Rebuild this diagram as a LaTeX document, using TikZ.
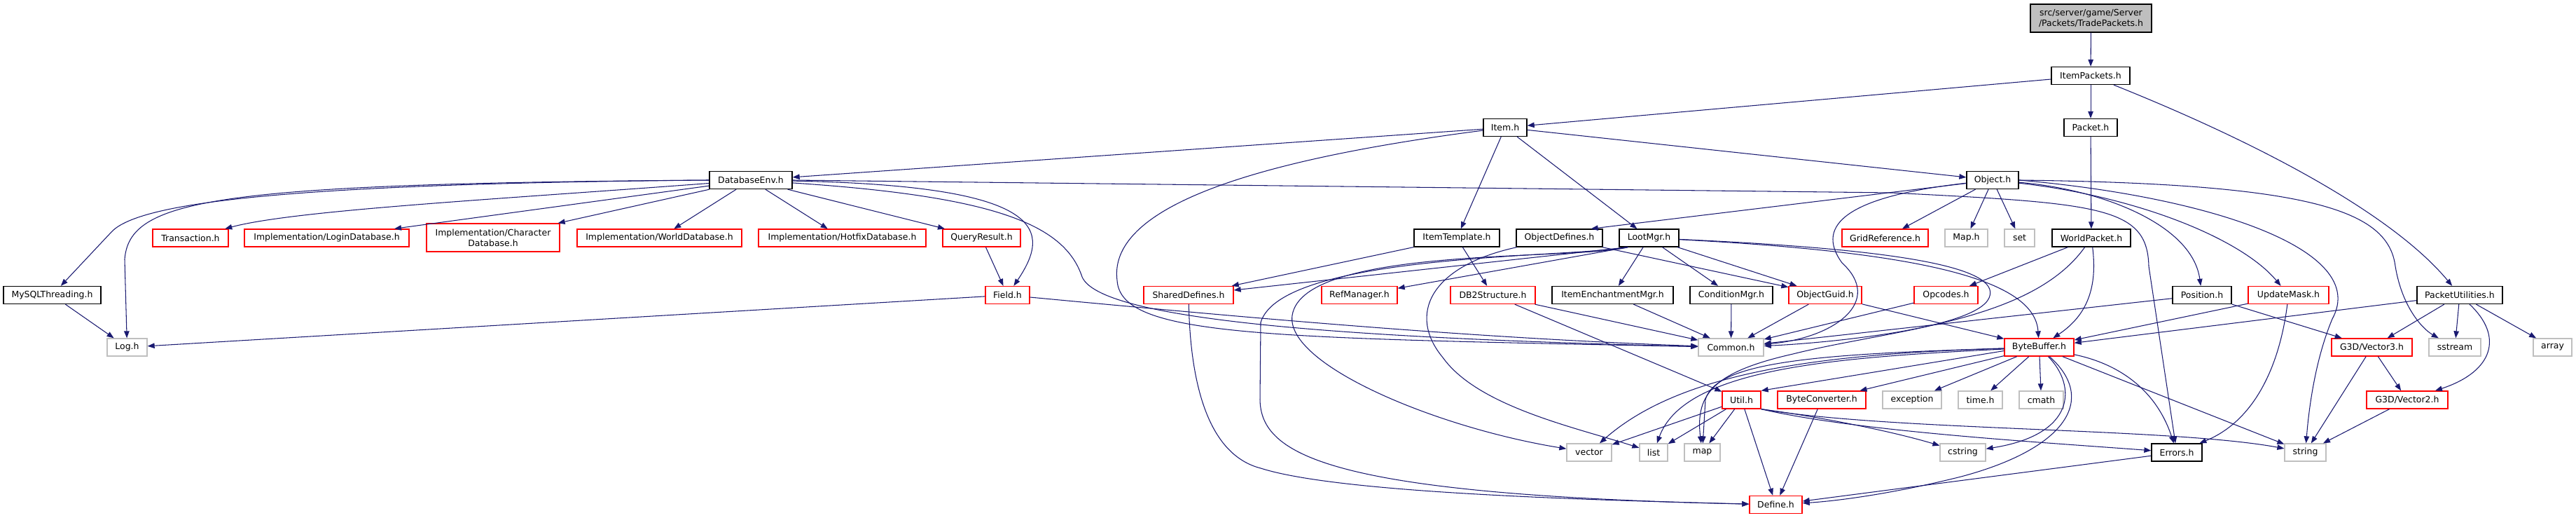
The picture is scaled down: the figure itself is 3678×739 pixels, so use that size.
\documentclass[tikz,border=0pt]{standalone}
\usepackage{fontspec}
\setmainfont{DejaVu Sans}
\usetikzlibrary{arrows.meta,calc}
\definecolor{EdgeBlue}{RGB}{25,25,112}
\definecolor{FileGray}{RGB}{191,191,191}
\definecolor{FileRed}{RGB}{255,0,0}

\begin{document}
\begin{tikzpicture}[
    x=0.02cm, y=-0.02cm,
    >={Triangle[length=0.2cm,width=0.15cm]},
    file/.style={rectangle, draw=#1, fill=white, line width=0.75pt,
                 minimum height=0.5cm, inner sep=0pt,
                 font=\fontsize{7.1}{8.6}\selectfont, text=black},
    file/.default=black,
    boxw/.style={minimum width=#1*0.02cm},
    rootfile/.style={file, fill=FileGray, minimum height=0.8cm, align=center},
    dep/.style={->, color=EdgeBlue, line width=0.6pt},
]
\useasboundingbox (0,0) rectangle (3678,739);

% ── Root and first levels ──
\node[rootfile, boxw=173] (root) at (2985.5,26) {src/server/game/Server\\/Packets/TradePackets.h};
\node[file, boxw=112] (itempk) at (2985,108) {ItemPackets.h};
\node[file, boxw=76] (packet) at (2985,182) {Packet.h};
\node[file, boxw=62] (item) at (2149,182) {Item.h};
\node[file, boxw=118] (dbenv) at (1072,257) {DatabaseEnv.h};
\node[file, boxw=74] (object) at (2845,257) {Object.h};

% ── Row 3 ──
\node[file=FileRed, boxw=108] (trans) at (272,339.5) {Transaction.h};
\node[file=FileRed, boxw=235] (logindb) at (466.5,339.5) {Implementation/LoginDatabase.h};
\node[file=FileRed, boxw=190, minimum height=0.8cm, align=center] (chardb) at (704,339) {Implementation/Character\\Database.h};
\node[file=FileRed, boxw=235] (worlddb) at (941.5,339.5) {Implementation/WorldDatabase.h};
\node[file=FileRed, boxw=239] (hotfixdb) at (1202.5,339.5) {Implementation/HotfixDatabase.h};
\node[file=FileRed, boxw=111] (queryres) at (1401.5,339.5) {QueryResult.h};
\node[file, boxw=122] (itemtpl) at (2080,339.5) {ItemTemplate.h};
\node[file, boxw=123] (objdef) at (2226.5,339.5) {ObjectDefines.h};
\node[file, boxw=85] (lootmgr) at (2354.5,339.5) {LootMgr.h};
\node[file=FileRed, boxw=123] (gridref) at (2691.5,339.5) {GridReference.h};
\node[file=FileGray, boxw=61] (maph) at (2807.5,339.5) {Map.h};
\node[file=FileGray, boxw=43] (set) at (2883.5,339.5) {set};
\node[file, boxw=112] (wpkt) at (2986,339.5) {WorldPacket.h};

% ── Row 4 ──
\node[file, boxw=139] (mysql) at (74.5,421) {MySQLThreading.h};
\node[file=FileRed, boxw=63] (field) at (1438.5,421) {Field.h};
\node[file=FileRed, boxw=128] (sdef) at (1697,421) {SharedDefines.h};
\node[file=FileRed, boxw=108] (refmgr) at (1941,421) {RefManager.h};
\node[file=FileRed, boxw=121] (db2) at (2131.5,421) {DB2Structure.h};
\node[file, boxw=173] (itemench) at (2302.5,421) {ItemEnchantmentMgr.h};
\node[file, boxw=118] (condmgr) at (2472,421) {ConditionMgr.h};
\node[file=FileRed, boxw=104] (objguid) at (2606,421) {ObjectGuid.h};
\node[file=FileRed, boxw=91] (opcodes) at (2778.5,421) {Opcodes.h};
\node[file, boxw=84] (position) at (3144,421) {Position.h};
\node[file=FileRed, boxw=115] (updmask) at (3267.5,421) {UpdateMask.h};
\node[file, boxw=122] (pktutil) at (3512,421) {PacketUtilities.h};

% ── Row 5 ──
\node[file=FileGray, boxw=57] (log) at (181.5,495.5) {Log.h};
\node[file=FileGray, boxw=93] (common) at (2471.5,495.5) {Common.h};
\node[file=FileRed, boxw=99] (bytebuf) at (2911.5,495.5) {ByteBuffer.h};
\node[file=FileRed, boxw=115] (vecthree) at (3386.5,495.5) {G3D/Vector3.h};
\node[file=FileGray, boxw=74] (sstream) at (3505,495.5) {sstream};
\node[file=FileGray, boxw=55] (array) at (3644.5,495.5) {array};

% ── Row 6 ──
\node[file=FileRed, boxw=55] (util) at (2486.5,570.5) {Util.h};
\node[file=FileRed, boxw=126] (byteconv) at (2601,570.5) {ByteConverter.h};
\node[file=FileGray, boxw=84] (exception) at (2730,570.5) {exception};
\node[file=FileGray, boxw=63] (timeh) at (2827.5,570.5) {time.h};
\node[file=FileGray, boxw=63] (cmath) at (2914.5,570.5) {cmath};
\node[file=FileRed, boxw=116] (vectwo) at (3437,570.5) {G3D/Vector2.h};

% ── Row 7 and 8 ──
\node[file=FileGray, boxw=64] (vector) at (2269,645.5) {vector};
\node[file=FileGray, boxw=40] (list) at (2361,645.5) {list};
\node[file=FileGray, boxw=51] (map) at (2430.5,645.5) {map};
\node[file=FileGray, boxw=65] (cstring) at (2802.5,645.5) {cstring};
\node[file, boxw=72] (errors) at (3108,645.5) {Errors.h};
\node[file=FileGray, boxw=59] (string) at (3291.5,645.5) {string};
\node[file=FileRed, boxw=75] (define) at (2535.5,720) {Define.h};

% ── Edges: top chain ──
\draw[dep] (root) -- (itempk);
\draw[dep] (itempk) -- (item);
\draw[dep] (itempk) -- (packet);
\draw[dep] (itempk) .. controls (3240,210) and (3420,310) .. (pktutil);
\draw[dep] (packet) -- (wpkt);

% ── Edges: Item.h ──
\draw[dep] (item) -- (dbenv);
\draw[dep] (item) -- (object);
\draw[dep] (item) -- (itemtpl);
\draw[dep] (item) -- (lootmgr);
\draw[dep] (item) .. controls (1700,240) and (1585,320) .. (1595,400)
    .. controls (1600,480) and (1800,482) .. (common);

% ── Edges: DatabaseEnv.h ──
\draw[dep] (dbenv) .. controls (700,285) and (420,300) .. (trans);
\draw[dep] (dbenv) -- (logindb);
\draw[dep] (dbenv) -- (chardb);
\draw[dep] (dbenv) -- (worlddb);
\draw[dep] (dbenv) -- (hotfixdb);
\draw[dep] (dbenv) -- (queryres);
\draw[dep] (dbenv) .. controls (1500,265) and (1500,330) .. (field);
\draw[dep] (dbenv) .. controls (1420,280) and (1520,320) .. (1545,395)
    .. controls (1570,455) and (1900,482) .. (common);
\draw[dep] (dbenv.east) -- (2700,275) .. controls (3000,290) and (3066,295) .. (3068,380) -- (errors);
\draw[dep] (dbenv.west) .. controls (400,262) and (200,290) .. (160,330) -- (mysql);
\draw[dep] (dbenv.west) .. controls (300,262) and (185,285) .. (178,370) -- (log);

% ── Edges: Field.h, MySQLThreading.h ──
\draw[dep] (queryres) -- (field);
\draw[dep] (mysql) -- (log);
\draw[dep] (field) -- (log);
\draw[dep] (field) .. controls (1800,455) and (2100,482) .. (common);

% ── Edges: Object.h ──
\draw[dep] (object) -- (gridref);
\draw[dep] (object) -- (maph);
\draw[dep] (object) -- (set);
\draw[dep] (object) -- ([xshift=-0.34cm]objdef.north east);
\draw[dep] (object) .. controls (2640,280) and (2590,320) .. (2630,375)
    .. controls (2690,430) and (2620,482) .. (common);
\draw[dep] (object) .. controls (3000,270) and (3130,320) .. (position);
\draw[dep] (object) .. controls (3050,280) and (3200,340) .. (updmask);
\draw[dep] (object.east) .. controls (3150,280) and (3385,355) .. (3330,455)
    .. controls (3304,517) and (3296,590) .. (string);
\draw[dep] (object.east) .. controls (3300,262) and (3410,300) .. (3420,380)
    .. controls (3430,440) and (3460,470) .. (sstream);

% ── Edges: WorldPacket.h ──
\draw[dep] (wpkt) -- (opcodes);
\draw[dep] (wpkt) .. controls (2995,410) and (2980,450) .. (bytebuf);
\draw[dep] (wpkt) .. controls (2900,460) and (2700,470) .. (2560,505)
    .. controls (2450,530) and (2420,560) .. (map);

% ── Edges: ItemTemplate.h, ObjectDefines.h, LootMgr.h ──
\draw[dep] (itemtpl) -- (sdef);
\draw[dep] (itemtpl) -- (db2);
\draw[dep] (objdef) -- (objguid);
\draw[dep] (objdef) .. controls (2040,380) and (2010,450) .. (2060,510)
    .. controls (2110,580) and (2250,610) .. (list);
\draw[dep] ([xshift=0.26cm]lootmgr.south west) -- (sdef);
\draw[dep] ([xshift=0.26cm]lootmgr.south west) -- (refmgr);
\draw[dep] (lootmgr) -- (itemench);
\draw[dep] (lootmgr) -- (condmgr);
\draw[dep] (lootmgr) -- (objguid);
\draw[dep] (lootmgr) .. controls (2750,360) and (2905,400) .. (bytebuf);
\draw[dep] (lootmgr) .. controls (2700,355) and (2860,380) .. (2840,425)
    .. controls (2820,470) and (2600,490) .. (common);
\draw[dep] ([xshift=0.26cm]lootmgr.south west) .. controls (2250,372) and (1860,350) .. (1845,450)
    .. controls (1835,520) and (2050,610) .. (vector);
\draw[dep] ([xshift=0.2cm]lootmgr.south west) .. controls (2250,368) and (1830,360) .. (1800,460)
    -- (1799,570) .. controls (1800,650) and (1900,706) .. (define);

% ── Edges: row 4 sources ──
\draw[dep] (sdef) .. controls (1700,560) and (1730,650) .. (1800,668)
    .. controls (1900,700) and (2200,712) .. (define);
\draw[dep] (db2) -- (common);
\draw[dep] (db2) -- (util);
\draw[dep] (itemench) -- (common);
\draw[dep] (condmgr) -- (common);
\draw[dep] (objguid) -- (common);
\draw[dep] (objguid) -- (bytebuf);
\draw[dep] (opcodes) -- (common);
\draw[dep] (position) -- (common);
\draw[dep] (position) -- (vecthree);
\draw[dep] (updmask) -- (bytebuf);
\draw[dep] (updmask) .. controls (3255,520) and (3220,600) .. (errors);
\draw[dep] (pktutil) -- (bytebuf);
\draw[dep] (pktutil) -- (vecthree);
\draw[dep] (pktutil) -- (sstream);
\draw[dep] (pktutil) -- (array);
\draw[dep] (pktutil) .. controls (3575,480) and (3560,530) .. (vectwo);

% ── Edges: ByteBuffer.h ──
\draw[dep] ([yshift=-0.1cm]bytebuf.west) -- (util.north east);
\draw[dep] (bytebuf) -- (byteconv);
\draw[dep] (bytebuf) -- (exception);
\draw[dep] (bytebuf) -- (timeh);
\draw[dep] (bytebuf) -- (cmath);
\draw[dep] (bytebuf) -- (string);
\draw[dep] (bytebuf) .. controls (2600,505) and (2400,530) .. (vector);
\draw[dep] (bytebuf) .. controls (2620,510) and (2405,525) .. (list);
\draw[dep] (bytebuf) .. controls (2600,505) and (2450,515) .. (2435,570) -- (map);
\draw[dep] (bytebuf) .. controls (2965,550) and (2965,620) .. (cstring);
\draw[dep] (bytebuf) .. controls (2995,570) and (2950,640) .. (2800,680)
    .. controls (2700,705) and (2620,715) .. (define);
\draw[dep] (bytebuf) .. controls (3030,520) and (3080,560) .. (errors);

% ── Edges: G3D, Util.h and the rest ──
\draw[dep] (vecthree) -- (vectwo);
\draw[dep] (vecthree) -- (string);
\draw[dep] (vectwo) -- (string);
\draw[dep] (util) -- (vector);
\draw[dep] (util) -- (list);
\draw[dep] (util) -- (map);
\draw[dep] (util) -- (define);
\draw[dep] (util.south east) .. controls (2600,595) and (2700,615) .. (cstring);
\draw[dep] (util.south east) .. controls (2650,615) and (2900,630) .. (errors);
\draw[dep] (util.south east) .. controls (2700,615) and (3100,610) .. (string);
\draw[dep] (byteconv) -- (define);
\draw[dep] (errors) -- (define);

\end{tikzpicture}
\end{document}
